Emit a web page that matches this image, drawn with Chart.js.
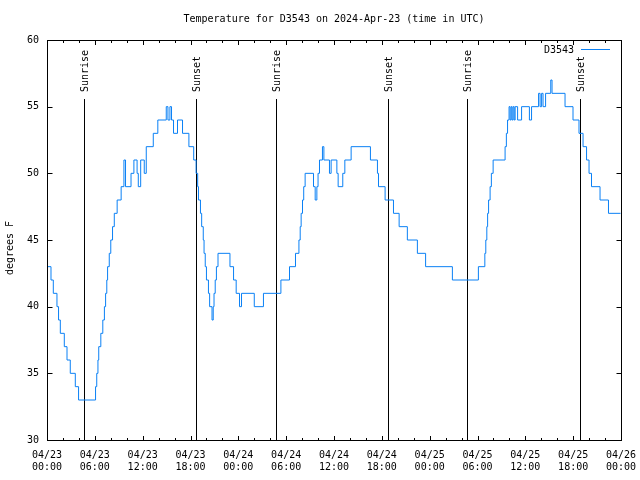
<!DOCTYPE html>
<html>
<head>
<meta charset="utf-8">
<title>Temperature for D3543</title>
<script src="https://cdn.jsdelivr.net/npm/chart.js@4/dist/chart.umd.min.js"></script>
<style>
    html, body { margin: 0; padding: 0; background: #ffffff; }
    #tempChart { display: block; }
</style>
</head>
<body>
<canvas id="tempChart" width="640" height="480"></canvas>
<script>
// Hours since 04/23 00:00 UTC at which the reading changed, and the new reading (degrees F)
const tempHours = [
    0, 0.5, 0.79, 1.25, 1.45, 1.67, 2.17, 2.51, 2.92, 3.55, 3.96,
    6.09, 6.24, 6.39, 6.49, 6.75, 7.0, 7.2, 7.35, 7.5, 7.6, 7.81, 8.0, 8.22, 8.44, 8.8, 9.3,
    9.65, 9.85, 10.54, 10.9, 11.3, 11.45, 11.75, 12.2, 12.45, 13.33, 13.9,
    14.96, 15.17, 15.42, 15.62, 15.87, 16.37, 17.0, 17.8, 18.4, 18.7, 18.9, 19.0,
    19.25, 19.4, 19.6, 19.7, 19.85, 20.0, 20.25, 20.4, 20.7, 20.85, 20.95, 21.1, 21.25, 21.45,
    22.95, 23.4, 23.73, 24.15, 24.4, 26.0, 27.15, 29.34, 30.42, 31.17, 31.6, 31.76, 31.88,
    32.05, 32.2, 32.38, 33.43, 33.64, 33.85, 34.0, 34.18, 34.55, 34.73, 35.43, 35.64,
    36.36, 36.52, 37.1, 37.36, 38.15, 40.57, 41.45, 41.58, 42.41, 43.46, 44.17, 45.2,
    46.46, 47.49, 50.85, 54.11, 54.92, 55.04, 55.17, 55.27, 55.39, 55.58, 55.74, 55.96,
    57.46, 57.62, 57.77, 57.96, 58.09, 58.22, 58.34, 58.47, 58.6, 58.72, 59.03, 59.53,
    60.51, 60.78, 61.66, 61.85, 62.04, 62.22, 62.54, 63.19, 63.35, 64.98, 65.98, 66.73,
    67.24, 67.68, 67.99, 68.3, 69.37, 70.43, 71.94
];
const tempValues = [
    43, 42, 41, 40, 39, 38, 37, 36, 35, 34, 33,
    34, 35, 36, 37, 38, 39, 40, 41, 42, 43, 44, 45, 46, 47, 48, 49,
    51, 49, 50, 51, 50, 49, 51, 50, 52, 53, 54,
    55, 54, 55, 54, 53, 54, 53, 52, 51, 50, 49, 48,
    47, 46, 45, 44, 43, 42, 41, 40, 39, 40, 41, 42, 43, 44,
    43, 42, 41, 40, 41, 40, 41, 42, 43, 44, 45, 46, 47,
    48, 49, 50, 49, 48, 49, 50, 51, 52, 51, 50, 51,
    50, 49, 50, 51, 52, 51, 50, 49, 48, 47, 46, 45,
    44, 43, 42, 43, 44, 45, 46, 47, 48, 49, 50, 51,
    52, 53, 54, 55, 54, 55, 54, 55, 54, 55, 54, 55,
    54, 55, 56, 55, 56, 55, 56, 57, 56, 55, 54, 53,
    52, 51, 50, 49, 48, 47, 47
];

// Sunrise / sunset markers, hours since 04/23 00:00 UTC
const sunriseHours = [4.62, 28.76, 52.72];
const sunsetHours = [18.68, 42.83, 66.89];

// Axis ticks
const xTickLabels = [
    ['04/23', '00:00'], ['04/23', '06:00'], ['04/23', '12:00'], ['04/23', '18:00'],
    ['04/24', '00:00'], ['04/24', '06:00'], ['04/24', '12:00'], ['04/24', '18:00'],
    ['04/25', '00:00'], ['04/25', '06:00'], ['04/25', '12:00'], ['04/25', '18:00'],
    ['04/26', '00:00']
];
const yTicks = [30, 35, 40, 45, 50, 55, 60];

const seriesName = 'D3543';
const chartTitle = 'Temperature for D3543 on 2024-Apr-23 (time in UTC)';
const yAxisTitle = 'degrees F';

const FONT = '10px "DejaVu Sans Mono", monospace';
const LINE_COLOR = '#0a80f5';

document.addEventListener('DOMContentLoaded', () => {
    initChart();
});

/**
 * Draws the gnuplot-like decorations: sun markers, frame, inward ticks, texts
 */
const gnuplotDecor = {
    id: 'gnuplotDecor',
    beforeDatasetsDraw(chart) {
        const ctx = chart.ctx;
        const xs = chart.scales.x;
        const area = chart.chartArea;

        ctx.save();
        ctx.strokeStyle = '#000000';
        ctx.lineWidth = 1;
        ctx.fillStyle = '#000000';
        ctx.font = FONT;

        // Sunrise / sunset lines with rotated labels
        const marks = sunriseHours.map(h => [h, 'Sunrise'])
            .concat(sunsetHours.map(h => [h, 'Sunset']));
        marks.forEach(([h, label]) => {
            const px = Math.round(xs.getPixelForValue(h)) + 0.5;
            ctx.beginPath();
            ctx.moveTo(px, 99);
            ctx.lineTo(px, area.bottom);
            ctx.stroke();

            ctx.save();
            ctx.translate(px + 1, 92);
            ctx.rotate(-Math.PI / 2);
            ctx.textAlign = 'left';
            ctx.textBaseline = 'middle';
            ctx.fillText(label, 0, 0);
            ctx.restore();
        });
        ctx.restore();
    },
    afterDraw(chart) {
        const ctx = chart.ctx;
        const xs = chart.scales.x;
        const ys = chart.scales.y;
        const area = chart.chartArea;
        const left = Math.round(area.left) + 0.5;
        const right = Math.round(area.right) + 0.5;
        const top = Math.round(area.top) + 0.5;
        const bottom = Math.round(area.bottom) + 0.5;

        ctx.save();
        ctx.strokeStyle = '#000000';
        ctx.lineWidth = 1;

        // Frame
        ctx.strokeRect(left, top, right - left, bottom - top);

        // Inward ticks on x (major every 6 h, minor every 2 h)
        ctx.beginPath();
        for (let h = 0; h <= 72; h += 2) {
            const px = Math.round(xs.getPixelForValue(h)) + 0.5;
            const len = h % 6 === 0 ? 4.5 : 2.5;
            ctx.moveTo(px, bottom);
            ctx.lineTo(px, bottom - len);
            ctx.moveTo(px, top);
            ctx.lineTo(px, top + len);
        }
        // Inward ticks on y, both sides
        yTicks.forEach(v => {
            const py = Math.round(ys.getPixelForValue(v)) + 0.5;
            ctx.moveTo(left, py);
            ctx.lineTo(left + 5, py);
            ctx.moveTo(right, py);
            ctx.lineTo(right - 5, py);
        });
        ctx.stroke();

        ctx.fillStyle = '#000000';
        ctx.font = FONT;
        ctx.textBaseline = 'middle';

        // Title
        ctx.textAlign = 'center';
        ctx.fillText(chartTitle, (area.left + area.right) / 2, 19);

        // Y axis title
        ctx.save();
        ctx.translate(10.5, 248);
        ctx.rotate(-Math.PI / 2);
        ctx.textAlign = 'center';
        ctx.fillText(yAxisTitle, 0, 0);
        ctx.restore();

        // Legend
        ctx.textAlign = 'right';
        ctx.fillText(seriesName, 574, 50);
        ctx.strokeStyle = LINE_COLOR;
        ctx.beginPath();
        ctx.moveTo(581, 49.5);
        ctx.lineTo(610, 49.5);
        ctx.stroke();

        ctx.restore();
    }
};

/**
 * Initialize the temperature line chart
 */
function initChart() {
    const canvas = document.getElementById('tempChart');
    const ctx = canvas.getContext('2d');

    const points = tempHours.map((h, i) => ({ x: h, y: tempValues[i] }));

    new Chart(ctx, {
        type: 'line',
        data: {
            datasets: [{
                label: seriesName,
                data: points,
                borderColor: LINE_COLOR,
                borderWidth: 1,
                pointRadius: 0,
                stepped: true,
                fill: false
            }]
        },
        options: {
            responsive: false,
            animation: false,
            devicePixelRatio: 1,
            layout: {
                padding: { top: 40, right: 19, left: 0, bottom: 0 }
            },
            scales: {
                x: {
                    type: 'linear',
                    min: 0,
                    max: 72,
                    afterFit: scale => {
                        scale.height = 40;
                        scale.paddingLeft = 0;
                        scale.paddingRight = 0;
                    },
                    afterBuildTicks: scale => {
                        scale.ticks = xTickLabels.map((_, i) => ({ value: i * 6 }));
                    },
                    grid: { display: false, drawTicks: false },
                    border: { display: false },
                    ticks: {
                        maxRotation: 0,
                        autoSkip: false,
                        padding: 9,
                        color: '#000000',
                        font: { family: '"DejaVu Sans Mono", monospace', size: 10, lineHeight: 1.25 },
                        callback: value => xTickLabels[Math.round(value / 6)]
                    }
                },
                y: {
                    min: 30,
                    max: 60,
                    afterFit: scale => {
                        scale.width = 47;
                        scale.paddingTop = 0;
                        scale.paddingBottom = 0;
                    },
                    grid: { display: false, drawTicks: false },
                    border: { display: false },
                    ticks: {
                        stepSize: 5,
                        padding: 8,
                        color: '#000000',
                        font: { family: '"DejaVu Sans Mono", monospace', size: 10 }
                    }
                }
            },
            plugins: {
                legend: { display: false },
                title: { display: false },
                tooltip: { enabled: false }
            }
        },
        plugins: [gnuplotDecor]
    });
}
</script>
</body>
</html>
